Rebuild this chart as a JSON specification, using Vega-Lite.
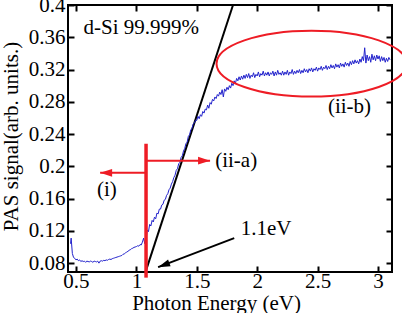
{
  "$schema": "https://vega.github.io/schema/vega-lite/v6.json",
  "width": 324,
  "height": 267,
  "autosize": {"type": "none"},
  "padding": {"left": 68, "top": 5, "right": 10, "bottom": 41},
  "background": "white",
  "config": {
    "font": "Liberation Serif",
    "view": {"stroke": "black", "strokeWidth": 2},
    "axis": {
      "grid": false,
      "domain": false,
      "tickSize": -6,
      "tickWidth": 2,
      "tickColor": "black",
      "labelFont": "Liberation Serif",
      "labelFontSize": 21,
      "labelColor": "black",
      "labelFlush": false,
      "labelOverlap": false,
      "titleFont": "Liberation Serif",
      "titleFontSize": 21,
      "titleFontWeight": "normal",
      "titleColor": "black"
    }
  },
  "datasets": {
    "pas": [
      {"e":0.455,"s":0.104},{"e":0.46,"s":0.111},{"e":0.47,"s":0.092},{"e":0.48,"s":0.087},{"e":0.49,"s":0.086},{"e":0.50,"s":0.084},
      {"e":0.51,"s":0.085},{"e":0.52,"s":0.083},{"e":0.53,"s":0.084},{"e":0.54,"s":0.082},{"e":0.55,"s":0.083},{"e":0.56,"s":0.082},
      {"e":0.57,"s":0.0825},{"e":0.58,"s":0.081},{"e":0.59,"s":0.0825},{"e":0.60,"s":0.082},{"e":0.61,"s":0.0815},{"e":0.62,"s":0.0825},
      {"e":0.63,"s":0.082},{"e":0.64,"s":0.081},{"e":0.65,"s":0.0825},{"e":0.66,"s":0.082},{"e":0.67,"s":0.0815},{"e":0.68,"s":0.0825},
      {"e":0.69,"s":0.080},{"e":0.70,"s":0.0825},{"e":0.71,"s":0.083},{"e":0.72,"s":0.0825},{"e":0.73,"s":0.0835},{"e":0.74,"s":0.083},
      {"e":0.75,"s":0.084},{"e":0.76,"s":0.0835},{"e":0.77,"s":0.0845},{"e":0.78,"s":0.085},{"e":0.79,"s":0.0845},{"e":0.80,"s":0.0855},
      {"e":0.81,"s":0.086},{"e":0.82,"s":0.0865},{"e":0.83,"s":0.087},{"e":0.84,"s":0.0875},{"e":0.85,"s":0.088},{"e":0.86,"s":0.0885},
      {"e":0.87,"s":0.089},{"e":0.88,"s":0.0895},{"e":0.89,"s":0.091},{"e":0.90,"s":0.0915},{"e":0.91,"s":0.0925},{"e":0.92,"s":0.094},
      {"e":0.93,"s":0.0945},{"e":0.94,"s":0.096},{"e":0.95,"s":0.0965},{"e":0.96,"s":0.098},{"e":0.97,"s":0.0985},{"e":0.98,"s":0.0995},
      {"e":0.99,"s":0.100},{"e":1.00,"s":0.1005},{"e":1.01,"s":0.1015},{"e":1.02,"s":0.101},{"e":1.03,"s":0.103},{"e":1.04,"s":0.1025},
      {"e":1.05,"s":0.106},{"e":1.06,"s":0.111},{"e":1.07,"s":0.104},{"e":1.08,"s":0.109},{"e":1.09,"s":0.121},{"e":1.10,"s":0.119},
      {"e":1.11,"s":0.128},{"e":1.12,"s":0.126},{"e":1.13,"s":0.133},{"e":1.14,"s":0.131},{"e":1.15,"s":0.137},{"e":1.16,"s":0.135},
      {"e":1.17,"s":0.142},{"e":1.18,"s":0.141},{"e":1.19,"s":0.147},{"e":1.20,"s":0.147},{"e":1.21,"s":0.152},{"e":1.22,"s":0.153},
      {"e":1.23,"s":0.158},{"e":1.24,"s":0.159},{"e":1.25,"s":0.164},{"e":1.26,"s":0.166},{"e":1.27,"s":0.171},{"e":1.28,"s":0.173},
      {"e":1.29,"s":0.178},{"e":1.30,"s":0.181},{"e":1.31,"s":0.186},{"e":1.32,"s":0.189},{"e":1.33,"s":0.195},{"e":1.34,"s":0.197},
      {"e":1.35,"s":0.203},{"e":1.36,"s":0.205},{"e":1.37,"s":0.211},{"e":1.38,"s":0.213},{"e":1.39,"s":0.219},{"e":1.40,"s":0.222},
      {"e":1.41,"s":0.228},{"e":1.42,"s":0.230},{"e":1.43,"s":0.237},{"e":1.44,"s":0.239},{"e":1.45,"s":0.245},{"e":1.46,"s":0.247},
      {"e":1.47,"s":0.252},{"e":1.48,"s":0.254},{"e":1.49,"s":0.257},{"e":1.50,"s":0.257},{"e":1.51,"s":0.262},{"e":1.52,"s":0.259},
      {"e":1.53,"s":0.264},{"e":1.54,"s":0.262},{"e":1.55,"s":0.268},{"e":1.56,"s":0.266},{"e":1.57,"s":0.271},{"e":1.58,"s":0.270},
      {"e":1.59,"s":0.276},{"e":1.60,"s":0.272},{"e":1.61,"s":0.279},{"e":1.62,"s":0.277},{"e":1.63,"s":0.283},{"e":1.64,"s":0.281},
      {"e":1.65,"s":0.286},{"e":1.66,"s":0.284},{"e":1.67,"s":0.289},{"e":1.68,"s":0.287},{"e":1.69,"s":0.292},{"e":1.70,"s":0.289},
      {"e":1.71,"s":0.295},{"e":1.72,"s":0.286},{"e":1.73,"s":0.296},{"e":1.74,"s":0.293},{"e":1.75,"s":0.298},{"e":1.76,"s":0.295},
      {"e":1.77,"s":0.300},{"e":1.78,"s":0.297},{"e":1.79,"s":0.303},{"e":1.80,"s":0.300},{"e":1.81,"s":0.306},{"e":1.82,"s":0.303},
      {"e":1.83,"s":0.309},{"e":1.84,"s":0.306},{"e":1.85,"s":0.311},{"e":1.86,"s":0.307},{"e":1.87,"s":0.312},{"e":1.88,"s":0.308},
      {"e":1.89,"s":0.313},{"e":1.90,"s":0.309},{"e":1.91,"s":0.314},{"e":1.92,"s":0.310},{"e":1.93,"s":0.315},{"e":1.94,"s":0.309},
      {"e":1.95,"s":0.313},{"e":1.96,"s":0.311},{"e":1.97,"s":0.316},{"e":1.98,"s":0.310},{"e":1.99,"s":0.314},{"e":2.00,"s":0.312},
      {"e":2.01,"s":0.317},{"e":2.02,"s":0.311},{"e":2.03,"s":0.315},{"e":2.04,"s":0.313},{"e":2.05,"s":0.318},{"e":2.06,"s":0.312},
      {"e":2.07,"s":0.316},{"e":2.08,"s":0.313},{"e":2.09,"s":0.317},{"e":2.10,"s":0.312},{"e":2.11,"s":0.316},{"e":2.12,"s":0.314},
      {"e":2.13,"s":0.318},{"e":2.14,"s":0.312},{"e":2.15,"s":0.317},{"e":2.16,"s":0.313},{"e":2.17,"s":0.319},{"e":2.18,"s":0.314},
      {"e":2.19,"s":0.316},{"e":2.20,"s":0.313},{"e":2.21,"s":0.318},{"e":2.22,"s":0.313},{"e":2.23,"s":0.317},{"e":2.24,"s":0.314},
      {"e":2.25,"s":0.319},{"e":2.26,"s":0.313},{"e":2.27,"s":0.317},{"e":2.28,"s":0.315},{"e":2.29,"s":0.320},{"e":2.30,"s":0.314},
      {"e":2.31,"s":0.318},{"e":2.32,"s":0.315},{"e":2.33,"s":0.319},{"e":2.34,"s":0.316},{"e":2.35,"s":0.320},{"e":2.36,"s":0.315},
      {"e":2.37,"s":0.319},{"e":2.38,"s":0.316},{"e":2.39,"s":0.321},{"e":2.40,"s":0.317},{"e":2.41,"s":0.320},{"e":2.42,"s":0.316},
      {"e":2.43,"s":0.321},{"e":2.44,"s":0.318},{"e":2.45,"s":0.322},{"e":2.46,"s":0.317},{"e":2.47,"s":0.321},{"e":2.48,"s":0.319},
      {"e":2.49,"s":0.323},{"e":2.50,"s":0.318},{"e":2.51,"s":0.322},{"e":2.52,"s":0.320},{"e":2.53,"s":0.324},{"e":2.54,"s":0.319},
      {"e":2.55,"s":0.323},{"e":2.56,"s":0.321},{"e":2.57,"s":0.325},{"e":2.58,"s":0.320},{"e":2.59,"s":0.324},{"e":2.60,"s":0.321},
      {"e":2.61,"s":0.326},{"e":2.62,"s":0.322},{"e":2.63,"s":0.325},{"e":2.64,"s":0.321},{"e":2.65,"s":0.327},{"e":2.66,"s":0.323},
      {"e":2.67,"s":0.326},{"e":2.68,"s":0.322},{"e":2.69,"s":0.328},{"e":2.70,"s":0.324},{"e":2.71,"s":0.327},{"e":2.72,"s":0.323},
      {"e":2.73,"s":0.329},{"e":2.74,"s":0.325},{"e":2.75,"s":0.328},{"e":2.76,"s":0.324},{"e":2.77,"s":0.330},{"e":2.78,"s":0.326},
      {"e":2.79,"s":0.331},{"e":2.80,"s":0.327},{"e":2.81,"s":0.332},{"e":2.82,"s":0.328},{"e":2.83,"s":0.331},{"e":2.84,"s":0.327},
      {"e":2.85,"s":0.333},{"e":2.86,"s":0.329},{"e":2.87,"s":0.336},{"e":2.88,"s":0.331},{"e":2.89,"s":0.347},{"e":2.90,"s":0.328},
      {"e":2.91,"s":0.338},{"e":2.92,"s":0.331},{"e":2.93,"s":0.336},{"e":2.94,"s":0.329},{"e":2.95,"s":0.339},{"e":2.96,"s":0.332},
      {"e":2.97,"s":0.337},{"e":2.98,"s":0.331},{"e":2.99,"s":0.338},{"e":3.00,"s":0.333},{"e":3.01,"s":0.337},{"e":3.02,"s":0.330},
      {"e":3.03,"s":0.336},{"e":3.04,"s":0.331},{"e":3.05,"s":0.335},{"e":3.06,"s":0.329},{"e":3.07,"s":0.334},{"e":3.08,"s":0.330},
      {"e":3.09,"s":0.335},{"e":3.10,"s":0.332}
    ],
    "fit": [{"e": 1.08, "s": 0.071}, {"e": 1.80, "s": 0.40}],
    "edge": [{"e": 1.08, "s0": 0.062, "s1": 0.228}],
    "leftArrow": [{"e0": 1.08, "e1": 0.70, "s": 0.192}],
    "rightArrow": [{"e0": 1.08, "e1": 1.61, "s": 0.207}],
    "gapArrow": [{"e0": 1.81, "s0": 0.111, "e1": 1.18, "s1": 0.075}],
    "region": [{"e": 2.45, "s": 0.3273}],
    "labels": [
      {"label": "d-Si 99.999%", "e": 1.041, "s": 0.372},
      {"label": "(i)", "e": 0.756, "s": 0.171},
      {"label": "(ii-a)", "e": 1.826, "s": 0.207},
      {"label": "(ii-b)", "e": 2.764, "s": 0.274},
      {"label": "1.1eV", "e": 2.074, "s": 0.1217}
    ]
  },
  "resolve": {"axis": {"x": "independent", "y": "independent"}},
  "layer": [
    {
      "data": {"name": "fit"},
      "mark": {"type": "line", "color": "black", "strokeWidth": 2},
      "encoding": {
        "x": {"field": "e", "type": "quantitative", "scale": {"domain": [0.434, 3.116], "nice": false, "zero": false},
              "axis": {"orient": "top", "values": [0.5, 1, 1.5, 2, 2.5, 3], "labels": false, "title": null}},
        "y": {"field": "s", "type": "quantitative", "scale": {"domain": [0.069, 0.4], "nice": false, "zero": false},
              "axis": {"orient": "right", "values": [0.08, 0.12, 0.16, 0.2, 0.24, 0.28, 0.32, 0.36, 0.4], "labels": false, "title": null}}
      }
    },
    {
      "data": {"name": "pas"},
      "mark": {"type": "line", "color": "#2222cc", "strokeWidth": 1, "clip": true},
      "encoding": {
        "x": {"field": "e", "type": "quantitative", "scale": {"domain": [0.434, 3.116], "nice": false, "zero": false},
              "axis": {"orient": "bottom", "values": [0.5, 1, 1.5, 2, 2.5, 3], "format": "~g", "title": "Photon Energy (eV)",
                       "labelPadding": 4, "titleX": 148, "titleY": 37, "titleBaseline": "alphabetic"}},
        "y": {"field": "s", "type": "quantitative", "scale": {"domain": [0.069, 0.4], "nice": false, "zero": false},
              "axis": {"orient": "left", "values": [0.08, 0.12, 0.16, 0.2, 0.24, 0.28, 0.32, 0.36, 0.4], "format": "~g",
                       "title": "PAS signal(arb. units.)", "labelPadding": 9, "titleX": -51, "titleY": 131, "titleAngle": -90,
                       "titleBaseline": "alphabetic"}}
      }
    },
    {
      "data": {"name": "edge"},
      "mark": {"type": "rule", "color": "#ee1c25", "strokeWidth": 3.5},
      "encoding": {
        "x": {"field": "e", "type": "quantitative", "axis": null},
        "y": {"field": "s0", "type": "quantitative", "axis": null},
        "y2": {"field": "s1"}
      }
    },
    {
      "data": {"name": "leftArrow"},
      "layer": [
        {
          "mark": {"type": "rule", "color": "#ee1c25", "strokeWidth": 2},
          "encoding": {
            "x": {"field": "e0", "type": "quantitative", "axis": null},
            "x2": {"field": "e1"},
            "y": {"field": "s", "type": "quantitative", "axis": null}
          }
        },
        {
          "mark": {"type": "point", "shape": "M0,0L2,-0.65L2,0.65Z", "size": 144, "filled": true, "color": "#ee1c25", "opacity": 1},
          "encoding": {
            "x": {"field": "e1", "type": "quantitative", "axis": null},
            "y": {"field": "s", "type": "quantitative", "axis": null}
          }
        }
      ]
    },
    {
      "data": {"name": "rightArrow"},
      "layer": [
        {
          "mark": {"type": "rule", "color": "#ee1c25", "strokeWidth": 2},
          "encoding": {
            "x": {"field": "e0", "type": "quantitative", "axis": null},
            "x2": {"field": "e1"},
            "y": {"field": "s", "type": "quantitative", "axis": null}
          }
        },
        {
          "mark": {"type": "point", "shape": "M0,0L-2,-0.65L-2,0.65Z", "size": 144, "filled": true, "color": "#ee1c25", "opacity": 1},
          "encoding": {
            "x": {"field": "e1", "type": "quantitative", "axis": null},
            "y": {"field": "s", "type": "quantitative", "axis": null}
          }
        }
      ]
    },
    {
      "data": {"name": "gapArrow"},
      "layer": [
        {
          "mark": {"type": "rule", "color": "black", "strokeWidth": 2},
          "encoding": {
            "x": {"field": "e0", "type": "quantitative", "axis": null},
            "y": {"field": "s0", "type": "quantitative", "axis": null},
            "x2": {"field": "e1"},
            "y2": {"field": "s1"}
          }
        },
        {
          "mark": {"type": "point", "shape": "M0,0L2,-0.6L2,0.6Z", "size": 144, "angle": 339.4, "filled": true, "color": "black", "opacity": 1},
          "encoding": {
            "x": {"field": "e1", "type": "quantitative", "axis": null},
            "y": {"field": "s1", "type": "quantitative", "axis": null}
          }
        }
      ]
    },
    {
      "data": {"name": "region"},
      "mark": {"type": "point", "shape": "M-1,0A1,0.347 0 1,0 1,0A1,0.347 0 1,0 -1,0Z", "size": 36100, "filled": false,
               "color": "#ee1c25", "strokeWidth": 2, "opacity": 1},
      "encoding": {
        "x": {"field": "e", "type": "quantitative", "axis": null},
        "y": {"field": "s", "type": "quantitative", "axis": null}
      }
    },
    {
      "data": {"name": "labels"},
      "mark": {"type": "text", "font": "Liberation Serif", "fontSize": 21, "color": "black", "align": "center", "baseline": "middle"},
      "encoding": {
        "x": {"field": "e", "type": "quantitative", "axis": null},
        "y": {"field": "s", "type": "quantitative", "axis": null},
        "text": {"field": "label"}
      }
    }
  ]
}
